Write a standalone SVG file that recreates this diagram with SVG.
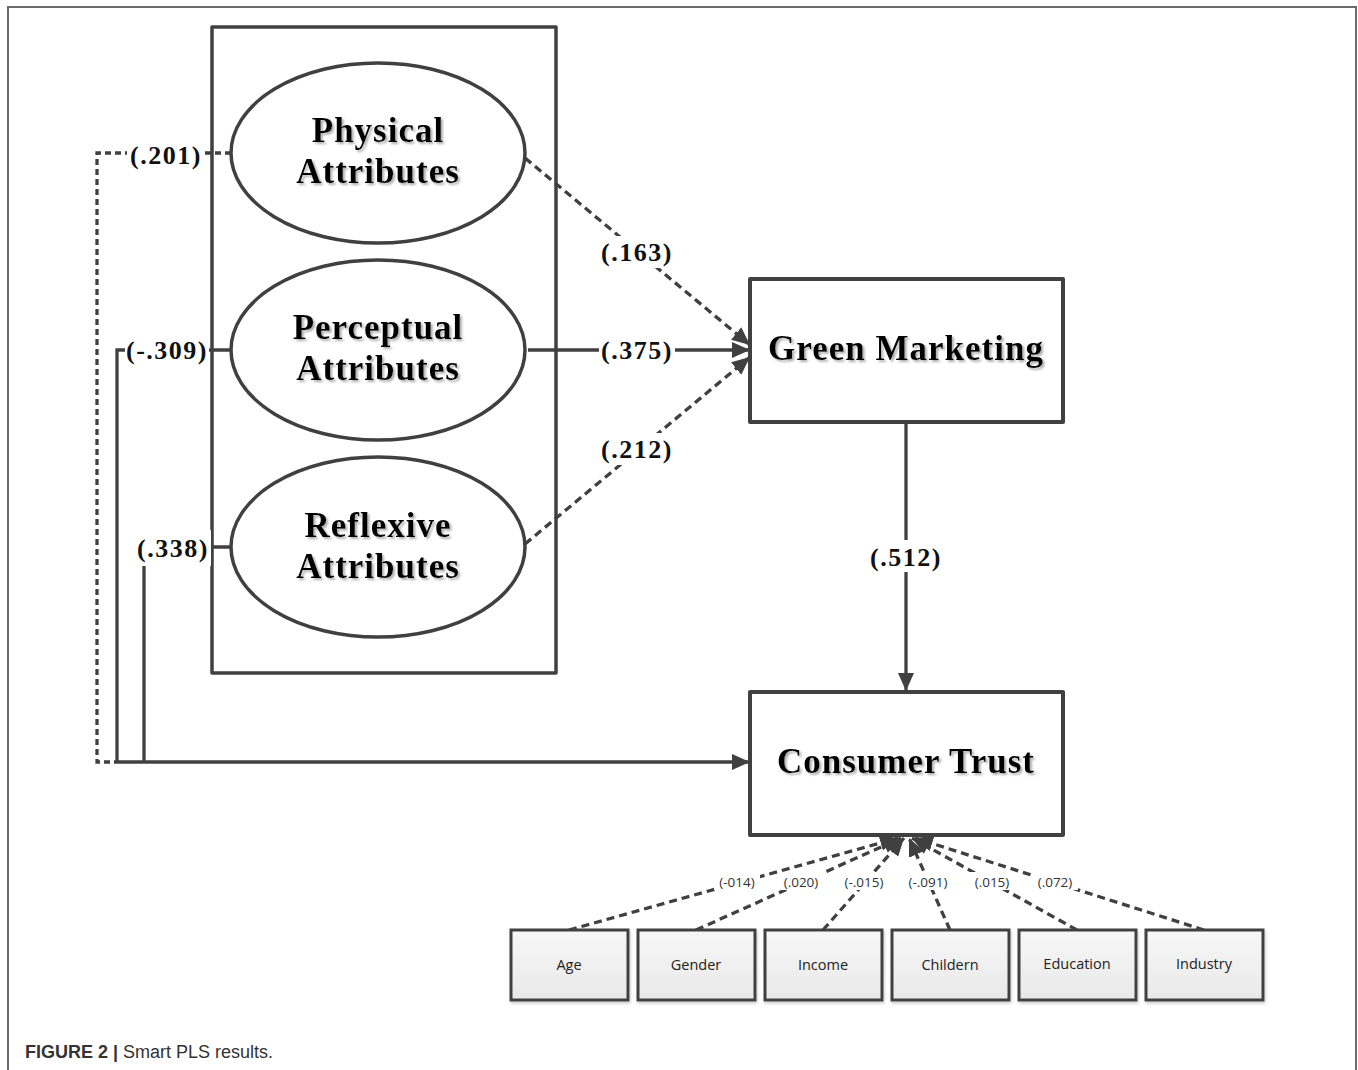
<svg xmlns="http://www.w3.org/2000/svg" width="1358" height="1070" viewBox="0 0 1358 1070">
<style>
.frame{fill:none;stroke:#6a6a6a;stroke-width:2}
.box{fill:#fff;stroke:#404040;stroke-width:4;stroke-linejoin:round}
.ell{fill:#fff;stroke:#404040;stroke-width:3.5}
.small{fill:url(#g);stroke:#404040;stroke-width:3}
.ln{fill:none;stroke:#404040;stroke-width:3.3}
.dash{stroke-dasharray:8 5}
.dot{stroke-dasharray:6 4}
.big{font-family:"Liberation Serif","Times New Roman",serif;font-weight:bold;font-size:35px;letter-spacing:1px;fill:#000;text-anchor:middle;filter:url(#sh)}
.lab{font-family:"Liberation Serif","Times New Roman",serif;font-weight:bold;font-size:26px;letter-spacing:1.5px;fill:#111;text-anchor:middle}
.sl{font-family:"Open Sans","Noto Sans",sans-serif;font-size:13.5px;fill:#333;text-anchor:middle}
.st{font-family:"Open Sans","Noto Sans",sans-serif;font-size:14.5px;fill:#222;text-anchor:middle}
.bg{fill:#fff}
.cap{font-family:"Liberation Sans",Arial,sans-serif;font-size:18px;fill:#333}
</style>
<defs>
<linearGradient id="g" x1="0" y1="0" x2="0" y2="1">
<stop offset="0" stop-color="#f7f7f7"/>
<stop offset="1" stop-color="#e9e9e9"/>
</linearGradient>
<filter id="sh" x="-10%" y="-20%" width="120%" height="150%">
<feDropShadow dx="2" dy="2" stdDeviation="1.2" flood-color="#9a9a9a" flood-opacity="0.8"/>
</filter>
<filter id="bs" x="-10%" y="-10%" width="120%" height="130%">
<feDropShadow dx="1" dy="2" stdDeviation="1.5" flood-color="#aaaaaa" flood-opacity="0.6"/>
</filter>
<marker id="ar" markerUnits="userSpaceOnUse" markerWidth="20" markerHeight="18" refX="18" refY="9" orient="auto">
<path d="M0,1 L18,9 L0,17 z" fill="#404040"/>
</marker>
</defs>

<path class="frame" d="M8,1070 V7 H1356 V1070"/>

<g id="attributes-frame">
<rect class="box" x="212" y="27" width="344" height="646" style="stroke-width:3.5"/>
</g>

<g id="connectors">
<path class="ln dot" d="M231,153 H97 V762 H117"/>
<path class="ln" d="M231,350 H117 V762"/>
<path class="ln" d="M231,547 H144 V762"/>
<path class="ln" d="M117,762 H750" marker-end="url(#ar)"/>
<path class="ln dash" d="M525,158 L750,345" marker-end="url(#ar)"/>
<path class="ln" d="M528,350 H750" marker-end="url(#ar)"/>
<path class="ln dash" d="M525,544 L750,357" marker-end="url(#ar)"/>
<path class="ln" d="M906,422 V691" marker-end="url(#ar)"/>
<path class="ln dash" d="M569,930 L898,838" marker-end="url(#ar)"/>
<path class="ln dash" d="M696,930 L901,838" marker-end="url(#ar)"/>
<path class="ln dash" d="M823,930 L904,838" marker-end="url(#ar)"/>
<path class="ln dash" d="M950,930 L909,838" marker-end="url(#ar)"/>
<path class="ln dash" d="M1077,930 L912,838" marker-end="url(#ar)"/>
<path class="ln dash" d="M1204,930 L915,838" marker-end="url(#ar)"/>

<rect class="bg" x="127" y="138" width="76" height="32"/>
<text class="lab" x="166" y="164">(.201)</text>
<rect class="bg" x="125" y="334" width="84" height="32"/>
<text class="lab" x="167" y="359">(-.309)</text>
<rect class="bg" x="134" y="530" width="77" height="36"/>
<text class="lab" x="173" y="557">(.338)</text>
<rect class="bg" x="599" y="236" width="76" height="32"/>
<text class="lab" x="637" y="261">(.163)</text>
<rect class="bg" x="599" y="334" width="76" height="32"/>
<text class="lab" x="637" y="359">(.375)</text>
<rect class="bg" x="599" y="433" width="76" height="32"/>
<text class="lab" x="637" y="458">(.212)</text>
<rect class="bg" x="868" y="540" width="76" height="32"/>
<text class="lab" x="906" y="566">(.512)</text>

<rect class="bg" x="714" y="872" width="46" height="18"/>
<text class="sl" x="737" y="887">(-014)</text>
<rect class="bg" x="778" y="872" width="46" height="18"/>
<text class="sl" x="801" y="887">(.020)</text>
<rect class="bg" x="840" y="872" width="49" height="18"/>
<text class="sl" x="864" y="887">(-.015)</text>
<rect class="bg" x="904" y="872" width="49" height="18"/>
<text class="sl" x="928" y="887">(-.091)</text>
<rect class="bg" x="969" y="872" width="46" height="18"/>
<text class="sl" x="992" y="887">(.015)</text>
<rect class="bg" x="1032" y="872" width="46" height="18"/>
<text class="sl" x="1055" y="887">(.072)</text>
</g>

<g id="physical">
<ellipse class="ell" cx="378" cy="153" rx="147" ry="90"/>
<text class="big" x="378" y="142">Physical</text>
<text class="big" x="378" y="183">Attributes</text>
</g>
<g id="perceptual">
<ellipse class="ell" cx="378" cy="350" rx="147" ry="90"/>
<text class="big" x="378" y="339">Perceptual</text>
<text class="big" x="378" y="380">Attributes</text>
</g>
<g id="reflexive">
<ellipse class="ell" cx="378" cy="547" rx="147" ry="90"/>
<text class="big" x="378" y="537">Reflexive</text>
<text class="big" x="378" y="578">Attributes</text>
</g>

<g id="green-marketing">
<rect class="box" x="750" y="279" width="313" height="143"/>
<text class="big" x="906" y="360">Green Marketing</text>
</g>
<g id="consumer-trust">
<rect class="box" x="750" y="692" width="313" height="143"/>
<text class="big" x="906" y="773">Consumer Trust</text>
</g>

<g id="age"><rect class="small" x="511" y="930" width="117" height="70" filter="url(#bs)"/><text class="st" x="569" y="970">Age</text></g>
<g id="gender"><rect class="small" x="638" y="930" width="117" height="70" filter="url(#bs)"/><text class="st" x="696" y="970">Gender</text></g>
<g id="income"><rect class="small" x="765" y="930" width="117" height="70" filter="url(#bs)"/><text class="st" x="823" y="970">Income</text></g>
<g id="childern"><rect class="small" x="892" y="930" width="117" height="70" filter="url(#bs)"/><text class="st" x="950" y="970">Childern</text></g>
<g id="education"><rect class="small" x="1019" y="930" width="117" height="70" filter="url(#bs)"/><text class="st" x="1077" y="969">Education</text></g>
<g id="industry"><rect class="small" x="1146" y="930" width="117" height="70" filter="url(#bs)"/><text class="st" x="1204" y="969">Industry</text></g>

<text class="cap" x="25" y="1058"><tspan font-weight="bold">FIGURE 2 |</tspan> Smart PLS results.</text>
</svg>
